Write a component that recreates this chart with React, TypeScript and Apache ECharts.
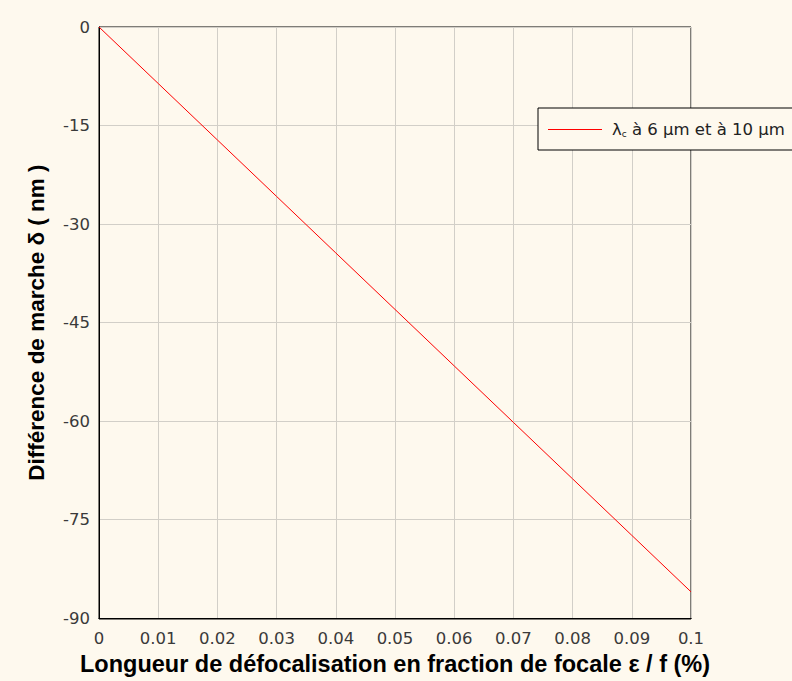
import React, { useEffect, useRef } from "react";
import * as echarts from "echarts";

const xValues = [0, 0.01, 0.02, 0.03, 0.04, 0.05, 0.06, 0.07, 0.08, 0.09, 0.1];
const deltaValues = [0, -8.6, -17.2, -25.8, -34.4, -43.0, -51.6, -60.2, -68.8, -77.4, -86.0];
const seriesName = "λc à 6 µm et à 10 µm";
const xTitle = "Longueur de défocalisation en fraction de focale ε / f (%)";
const yTitle = "Différence de marche δ ( nm )";

const BG = "#FEF9EE";
const FONT = "DejaVu Sans";
const TITLE_FONT = "Liberation Sans";

export default function App() {
  const ref = useRef<HTMLDivElement>(null);
  useEffect(() => {
    document.body.style.margin = "0";
    const chart = echarts.init(ref.current!, null, { renderer: "svg" });
    chart.setOption({
      animation: false,
      backgroundColor: BG,
      textStyle: { fontFamily: FONT },
      grid: { left: 99, top: 27, width: 592, height: 592, containLabel: false },
      xAxis: {
        type: "value",
        min: 0,
        max: 0.1,
        interval: 0.01,
        name: xTitle,
        nameLocation: "middle",
        nameGap: 32,
        nameTextStyle: { fontSize: 23.5, fontWeight: "bold", color: "#000", fontFamily: TITLE_FONT },
        axisLine: { show: true, onZero: false, lineStyle: { color: "#000", width: 1 } },
        axisTick: { show: false },
        axisLabel: { fontSize: 16.5, color: "#3a3a3a", margin: 12, formatter: (v: number) => String(Math.round(v * 100) / 100) },
        splitLine: { show: true, lineStyle: { color: "#D2CFC8", width: 1 } },
      },
      yAxis: {
        type: "value",
        min: -90,
        max: 0,
        interval: 15,
        name: yTitle,
        nameLocation: "middle",
        nameGap: 51,
        nameRotate: 90,
        nameTextStyle: { fontSize: 22.5, fontWeight: "bold", color: "#000", fontFamily: TITLE_FONT },
        axisLine: { show: true, onZero: false, lineStyle: { color: "#000", width: 1 } },
        axisTick: { show: false },
        axisLabel: { fontSize: 16.5, color: "#3a3a3a", margin: 9 },
        splitLine: { show: true, lineStyle: { color: "#D2CFC8", width: 1 } },
      },
      graphic: [
        {
          type: "rect",
          z: 0,
          silent: true,
          shape: { x: 99, y: 27, width: 592, height: 592 },
          style: { fill: "none", stroke: "#000", lineWidth: 1 },
        },
      ],
      legend: {
        left: 538,
        top: 108,
        orient: "vertical",
        backgroundColor: BG,
        borderColor: "#000",
        borderWidth: 1,
        borderRadius: 0,
        padding: [13, 10, 12, 10],
        itemWidth: 54,
        itemHeight: 18,
        itemGap: 0,
        data: [{ name: seriesName, icon: "path://M0,9 L54,9 L54,10 L0,10 Z" }],
        formatter: () => "{p|}{a|λ}{s|c}{a| à 6 µm et à 10 µm}",
        textStyle: {
          rich: {
            p: { width: 5, fontSize: 16 },
            a: { fontSize: 16.5, color: "#222", fontFamily: FONT },
            s: { fontSize: 9, color: "#222", fontFamily: FONT, verticalAlign: "bottom", padding: [8, 0, 0, 0] },
          },
        },
      },
      series: [
        {
          type: "line",
          name: seriesName,
          data: xValues.map((x, i) => [x, deltaValues[i]]),
          showSymbol: false,
          symbol: "none",
          lineStyle: { color: "#FF0000", width: 1 },
          itemStyle: { color: "#FF0000" },
          z: 3,
        },
      ],
    });
    return () => chart.dispose();
  }, []);
  return <div ref={ref} style={{ position: "fixed", left: 0, top: 0, width: 792, height: 681 }} />;
}
